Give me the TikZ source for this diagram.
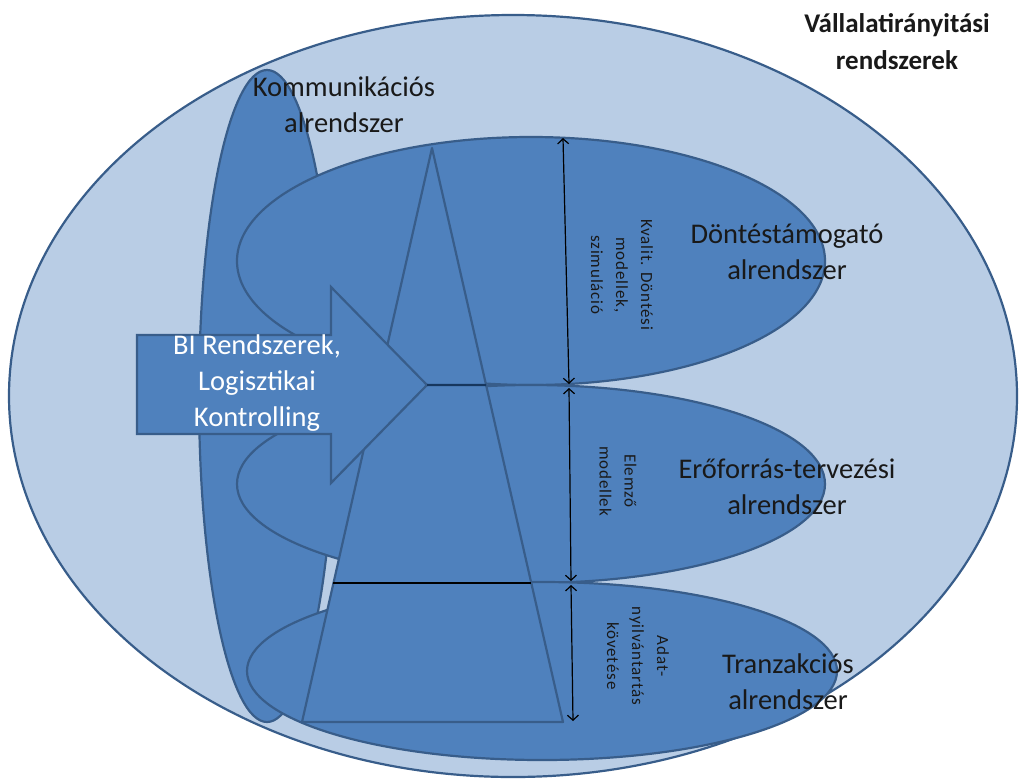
\documentclass[tikz,border=0pt]{standalone}
\usepackage{fontspec}
\setmainfont{Carlito}
\usetikzlibrary{arrows.meta,calc}
\definecolor{lightfill}{HTML}{B9CDE5}
\definecolor{midfill}{HTML}{4F81BD}
\definecolor{edgeblue}{HTML}{385D8A}
\definecolor{navyline}{HTML}{17375E}
\begin{document}
\begin{tikzpicture}[x=1pt,y=-1pt,
  blob/.style={fill=midfill,draw=edgeblue,line width=2.2pt},
  lbl/.style={align=center,text=black!90,font=\fontsize{28.5}{36}\selectfont},
  rotlbl/.style={align=center,rotate=-90,text=black!90,font=\fontsize{17}{25}\selectfont\addfontfeatures{LetterSpace=5}},
  dimarrow/.style={{Straight Barb[length=5pt,width=11pt]}-{Straight Barb[length=5pt,width=11pt]},line width=1.2pt,black}
]
\useasboundingbox (0,0) rectangle (1020,780);
\fill[white] (0,0) rectangle (1020,780);
% outer system
\draw[fill=lightfill,draw=edgeblue,line width=2.2pt] (513,396) ellipse [x radius=504pt, y radius=381pt];
% communication subsystem
\draw[blob] (267,396) ellipse [x radius=68pt, y radius=326pt];
% three horizontal subsystems
\draw[blob] (531,261) ellipse [x radius=294pt, y radius=124pt];
\draw[blob] (531,484) ellipse [x radius=294pt, y radius=99pt];
\draw[blob] (542,671) ellipse [x radius=295pt, y radius=89pt];
% pyramid
\coordinate (apex) at (432,148);
\coordinate (baseL) at (302,722);
\coordinate (baseR) at (563,722);
\draw[blob,line join=round] (apex) -- (baseR) -- (baseL) -- cycle;
% BI arrow
\coordinate (tip) at (427,385);
\coordinate (bodyTL) at (137,335);
\coordinate (bodyBL) at (137,434);
\coordinate (headT) at (331,287);
\coordinate (headB) at (331,483);
\draw[blob,line join=miter] (bodyTL) -- (331,335) -- (headT) -- (tip) -- (headB) -- (331,434) -- (bodyBL) -- cycle;
% level lines
\draw[navyline,line width=2.2pt] (tip) -- ($(apex)!0.413!(baseR)$);
\draw[black,line width=1.5pt] ($(apex)!0.758!(baseL)$) -- ($(apex)!0.758!(baseR)$);
% dimension arrows
\coordinate (d1) at (563,138);
\coordinate (d2) at (569,384);
\coordinate (d3) at (569,388);
\coordinate (d4) at (571,581);
\coordinate (d5) at (571,585);
\coordinate (d6) at (573,721);
\draw[dimarrow] (d1) -- (d2);
\draw[dimarrow] (d3) -- (d4);
\draw[dimarrow] (d5) -- (d6);
% labels
\node[lbl,font=\bfseries\fontsize{27}{37}\selectfont] (vall) at (897,42) {Vállalatirányitási\\rendszerek};
\node[lbl] (komm) at (344,105) {Kommunikációs\\alrendszer};
\node[lbl] (dont) at (787,252) {Döntéstámogató\\alrendszer};
\node[lbl] (erof) at (787,487) {Erőforrás-tervezési\\alrendszer};
\node[lbl] (tranz) at (788,682) {Tranzakciós\\alrendszer};
\node[lbl,text=white] (bi) at (257,383) {BI Rendszerek,\\Logisztikai\\Kontrolling};
\node[rotlbl] (kval) at (622,275) {Kvalit. Döntési\\modellek,\\szimuláció};
\node[rotlbl] (elem) at (618,481) {Elemző\\modellek};
\node[rotlbl] (adat) at (638,656) {Adat-\\nyilvántartás\\követése};
\end{tikzpicture}
\end{document}
